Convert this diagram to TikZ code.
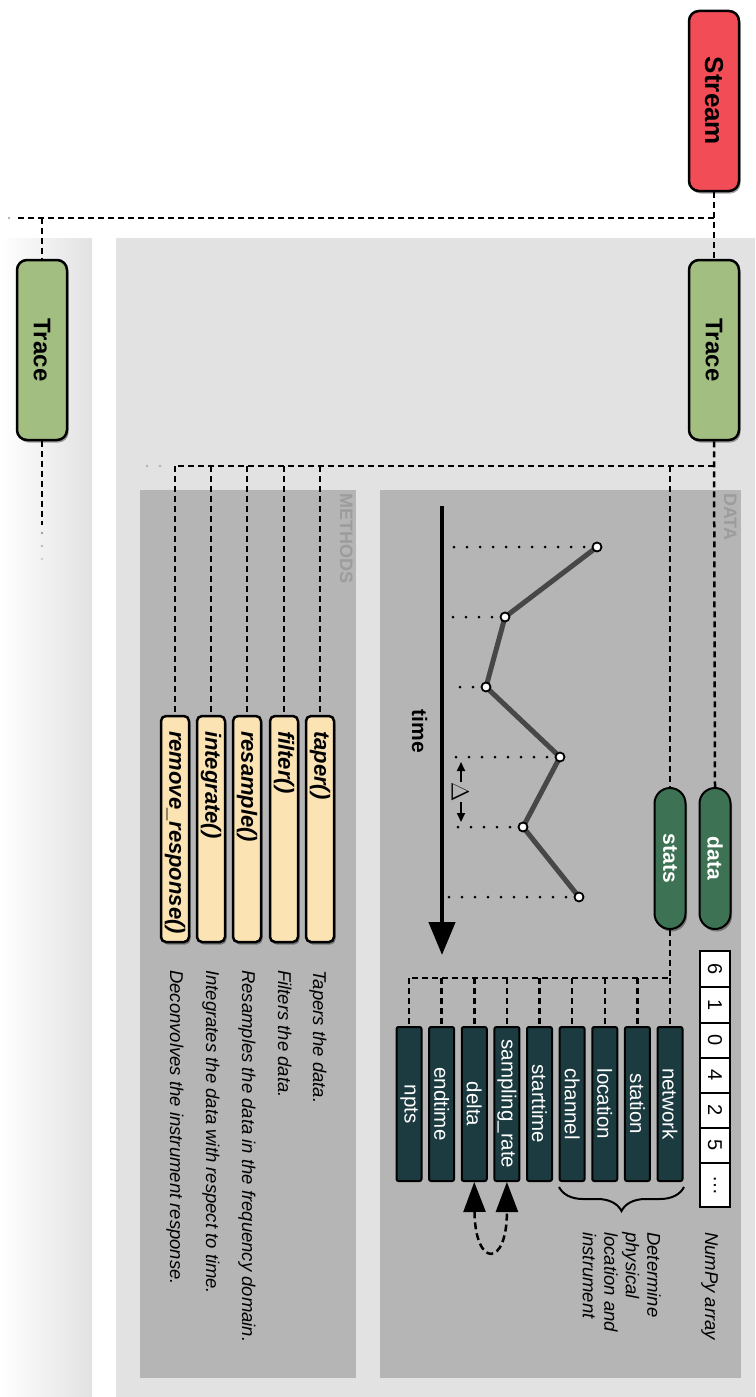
\documentclass[tikz,border=0pt]{standalone}
\usepackage{fontspec}
\setmainfont{Liberation Sans}
\usetikzlibrary{arrows.meta,shapes.misc,shadows,decorations.pathreplacing}
\definecolor{mainbg}{HTML}{E2E2E2}
\definecolor{innerbg}{HTML}{B5B5B5}
\definecolor{labgray}{HTML}{9C9C9C}
\definecolor{streamred}{HTML}{F24C56}
\definecolor{tracegreen}{HTML}{A2BE80}
\definecolor{pillgreen}{HTML}{3E7254}
\definecolor{statteal}{HTML}{1B3B40}
\definecolor{methyellow}{HTML}{FBE3B4}
\definecolor{curvegray}{HTML}{474747}
\begin{document}
\begin{tikzpicture}[x=1pt,y=-1pt,
  rotnode/.style={rotate=-90, inner sep=0pt},
  shad/.style={drop shadow={shadow xshift=1.5pt, shadow yshift=-2.5pt, opacity=0.35, fill=black}},
  objbox/.style={rotnode, shad, draw=black, line width=2.5pt, rounded corners=10pt,
    minimum width=180pt, minimum height=50pt},
  pill/.style={rotnode, shad, rounded rectangle, draw=black, line width=2pt, fill=pillgreen,
    text=white, minimum width=141pt, minimum height=31pt, font=\fontsize{21}{24}\selectfont\bfseries},
  statbox/.style={rotnode, draw=black, line width=2pt, fill=statteal, text=white,
    minimum width=154pt, minimum height=25pt, rounded corners=2pt, font=\fontsize{20.5}{24}\selectfont},
  methbox/.style={rotnode, shad, draw=black, line width=2.5pt, fill=methyellow, rounded corners=5pt,
    minimum width=226pt, minimum height=28pt, inner xsep=15pt,
    font=\fontsize{22}{26}\selectfont\bfseries\itshape},
  cell/.style={rotnode, draw=black, line width=2pt, fill=white, minimum height=30pt,
    font=\fontsize{20}{24}\selectfont},
  desc/.style={rotnode, anchor=base west, font=\fontsize{18.5}{21.5}\selectfont\itshape},
  panellab/.style={rotnode, anchor=base west, text=labgray, font=\fontsize{18}{20}\selectfont\bfseries},
  conn/.style={draw=black, line width=2.5pt, dash pattern=on 6pt off 4pt},
  dotl/.style={draw=black, line width=3pt, line cap=round, dash pattern=on 0pt off 13pt},
  fade/.style={fill=gray!60}
]
\useasboundingbox (0,0) rectangle (755,1397);

% panels
\shade[left color=white, right color=mainbg] (0,238) rectangle (92,1397);
\fill[mainbg] (116,238) rectangle (755,1397);
\fill[innerbg] (380,490) rectangle (741,1378);
\fill[innerbg] (140,490) rectangle (356,1378);
\node[panellab] (datalab) at (724,493) {DATA};
\node[panellab] (methlab) at (340,493) {METHODS};

% top objects
\node[objbox, fill=streamred, font=\fontsize{26}{30}\selectfont\bfseries] (stream) at (714,101) {Stream};
\node[objbox, fill=tracegreen, font=\fontsize{24}{28}\selectfont\bfseries] (traceR) at (714,350) {Trace};
\node[objbox, fill=tracegreen, font=\fontsize{24}{28}\selectfont\bfseries] (traceL) at (42,350) {Trace};

% pills
\node[pill] (data) at (715,858.5) {data};
\node[pill] (stats) at (670,858.5) {stats};

% numpy array
\node[cell, minimum width=36pt] (c1) at (715,969) {6};
\node[cell, minimum width=36pt] (c2) at (715,1005) {1};
\node[cell, minimum width=35pt] (c3) at (715,1040.5) {0};
\node[cell, minimum width=35pt] (c4) at (715,1075.5) {4};
\node[cell, minimum width=35pt] (c5) at (715,1110.5) {2};
\node[cell, minimum width=35pt] (c6) at (715,1145.5) {5};
\node[cell, minimum width=44pt] (c7) at (715,1185) {…};
\node[desc] (numpylab) at (705,1232) {NumPy array};

% stats boxes
\node[statbox] (snet) at (670,1104) {network};
\node[statbox] (ssta) at (637.4,1104) {station};
\node[statbox] (sloc) at (604.75,1104) {location};
\node[statbox] (scha) at (572.1,1104) {channel};
\node[statbox] (sst) at (539.5,1104) {starttime};
\node[statbox] (ssr) at (506.9,1104) {sampling\_rate};
\node[statbox] (sdel) at (474.25,1104) {delta};
\node[statbox] (send) at (441.6,1104) {endtime};
\node[statbox] (snpt) at (409,1104) {npts};

% brace and explanation
\coordinate (brA) at (684,1187);
\coordinate (brB) at (559,1187);
\draw[line width=2pt, decorate, decoration={brace, amplitude=24pt}] (brA) -- (brB);
\node[rotnode, anchor=north west, align=left, font=\fontsize{18.5}{21.5}\selectfont\itshape]
  (detlab) at (661,1232) {Determine\\physical\\location and\\instrument};

% sampling_rate <-> delta
\draw[line width=2.5pt, dash pattern=on 7pt off 4pt,
  {Triangle[width=22pt,length=30pt]}-{Triangle[width=22pt,length=30pt]}]
  (sdel.east) .. controls (475,1268) and (507,1268) .. (ssr.east);

% methods
\node[methbox] (m1) at (320,829) {\makebox[196pt][l]{taper()}};
\node[methbox] (m2) at (284,829) {\makebox[196pt][l]{filter()}};
\node[methbox] (m3) at (247,829) {\makebox[196pt][l]{resample()}};
\node[methbox] (m4) at (211,829) {\makebox[196pt][l]{integrate()}};
\node[methbox] (m5) at (175,829) {\makebox[196pt][l]{remove\_response()}};
\node[desc] (d1) at (313,970) {Tapers the data.};
\node[desc] (d2) at (278,970) {Filters the data.};
\node[desc] (d3) at (242,970) {Resamples the data in the frequency domain.};
\node[desc] (d4) at (206,970) {Integrates the data with respect to time.};
\node[desc] (d5) at (170,970) {Deconvolves the instrument response.};

% time plot
\coordinate (tTop) at (442,506);
\coordinate (tEnd) at (442,955);
\draw[line width=4.5pt, -{Triangle[width=26pt,length=33pt]}] (tTop) -- (tEnd);
\node[rotnode, anchor=base, font=\fontsize{21}{24}\selectfont\bfseries] (timelab) at (412,731.5) {time};
\coordinate (p1) at (597,547);
\coordinate (p2) at (505,617);
\coordinate (p3) at (486,687);
\coordinate (p4) at (560,757);
\coordinate (p5) at (523,827);
\coordinate (p6) at (579,897);
\foreach \p in {p1,p2,p3,p4,p5,p6}{
  \draw[dotl] (\p) -- (\p -| 448,0);
}
\draw[curvegray, line width=5pt, line join=round] (p1) -- (p2) -- (p3) -- (p4) -- (p5) -- (p6);
\foreach \p in {p1,p2,p3,p4,p5,p6}{
  \filldraw[fill=white, draw=black, line width=1.8pt] (\p) circle (4.5);
}
\coordinate (dA1) at (461,782);
\coordinate (dA2) at (461,762);
\coordinate (dB1) at (461,802);
\coordinate (dB2) at (461,822);
\draw[line width=2pt, -{Triangle[width=8pt,length=9pt]}] (dA1) -- (dA2);
\draw[line width=2pt, -{Triangle[width=8pt,length=9pt]}] (dB1) -- (dB2);
\node[rotnode, font=\fontsize{25}{28}\selectfont] (dlab) at (460,792) {$\Delta$};

% connectors
\coordinate (hL) at (16,218);
\coordinate (j1) at (714,218);
\coordinate (j2) at (42,218);
\draw[conn] (stream.east) -- (traceR.west);
\draw[conn] (j1) -- (hL);
\draw[conn] (j2) -- (traceL.west);
\fill[fade] (9,218) circle (1.3);

\coordinate (j3) at (714,466);
\coordinate (hM) at (175,466);
\draw[conn] (traceR.east) -- (data.west);
\draw[conn] (j3) -- (hM);
\draw[conn] (j3 -| stats.west) -- (stats.west);
\foreach \m in {m1,m2,m3,m4,m5}{
  \draw[conn] (hM -| \m.west) -- (\m.west);
}
\fill[fade] (147,466) circle (1.3);
\fill[fade] (160,466) circle (1.3);

\coordinate (tLend) at (42,525);
\draw[conn] (traceL.east) -- (tLend);
\fill[gray!75] (42,533) circle (1.3);
\fill[gray!55] (42,546) circle (1.3);
\fill[gray!40] (42,559) circle (1.3);

\coordinate (s1) at (670,978);
\draw[conn] (stats.east) -- (s1) -- (snpt.west |- s1);
\foreach \s in {snet,ssta,sloc,scha,sst,ssr,sdel,send,snpt}{
  \draw[conn] (\s.west |- s1) -- (\s.west);
}
\end{tikzpicture}
\end{document}
